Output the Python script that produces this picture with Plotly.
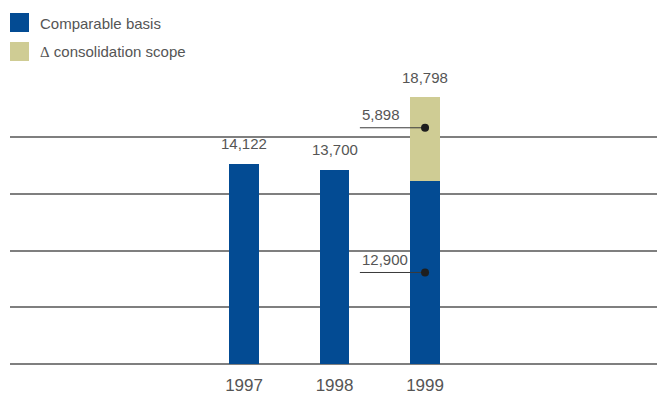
import plotly.graph_objects as go

# Sales by year (comparable basis + change in consolidation scope)
years = [1997, 1998, 1999]
comparable = [14122, 13700, 12900]
scope_delta = [0, 0, 5898]
totals = [c + d for c, d in zip(comparable, scope_delta)]
year_labels = ["1997", "1998", "1999"]
grid_levels = [0, 4000, 8000, 12000, 16000]

# Call-out markers on the 1999 bar: (label, value level of the dot)
callout_labels = ["5,898", "12,900"]
callout_levels = [16650, 6450]

BLUE = "#034b93"
KHAKI = "#cfcc94"
TEXT = "#555555"
GRID = "#7f7f7f"
FONT = "Liberation Sans, Arial, sans-serif"

PLOT_W, PLOT_H, TOP, BOTTOM = 647, 304, 60, 364

fig = go.Figure()
fig.add_trace(go.Bar(x=years, y=comparable, width=0.33, marker_color=BLUE,
                     marker_line_width=0, name="Comparable basis", showlegend=False))
fig.add_trace(go.Bar(x=years, y=scope_delta, width=0.33, marker_color=KHAKI,
                     marker_line_width=0, name="Δ consolidation scope", showlegend=False))

# leader lines with dots for the 1999 components
for lab, lvl in zip(callout_labels, callout_levels):
    fig.add_trace(go.Scatter(x=[years[2] - 0.72, years[2]], y=[lvl, lvl], mode="lines",
                             line=dict(color="#3a3a3a", width=1), showlegend=False,
                             hoverinfo="skip"))
    fig.add_trace(go.Scatter(x=[years[2]], y=[lvl], mode="markers",
                             marker=dict(color="#1e1e1e", size=8), showlegend=False,
                             hoverinfo="skip"))
    fig.add_annotation(x=years[2] - 0.72, y=lvl, text=lab, showarrow=False,
                       xanchor="left", yanchor="middle", yshift=13,
                       font=dict(family=FONT, size=15, color=TEXT))

# total labels above the bars
for yr, tot in zip(years, totals):
    fig.add_annotation(x=yr, y=tot, text=f"{tot:,}", showarrow=False,
                       xanchor="center", yanchor="middle", yshift=20,
                       font=dict(family=FONT, size=15, color=TEXT))

# legend drawn as swatches and labels (pixel positions converted to paper units)
legend_items = [("Comparable basis", BLUE),
                ("<span style='font-family:Liberation Serif'>Δ</span> consolidation scope", KHAKI)]
for i, (lab, col) in enumerate(legend_items):
    top = 13 + i * 29
    fig.add_shape(type="rect", xref="paper", yref="paper",
                  x0=0, x1=19 / PLOT_W,
                  y0=(BOTTOM - top - 19) / PLOT_H, y1=(BOTTOM - top) / PLOT_H,
                  fillcolor=col, line_width=0, layer="above")
    fig.add_annotation(xref="paper", yref="paper", x=28 / PLOT_W,
                       y=(BOTTOM - top - 10) / PLOT_H, text=lab, showarrow=False,
                       xanchor="left", yanchor="middle",
                       font=dict(family=FONT, size=15, color=TEXT))

fig.update_layout(
    width=657, height=396,
    margin=dict(l=10, r=0, t=TOP, b=396 - BOTTOM),
    barmode="stack",
    paper_bgcolor="white", plot_bgcolor="white",
    showlegend=False,
    xaxis=dict(range=[1994.414, 2001.563], tickmode="array", tickvals=years,
               ticktext=year_labels, showgrid=False, zeroline=False,
               showline=False, ticks="", ticklabelstandoff=9,
               tickfont=dict(family=FONT, size=17, color=TEXT)),
    yaxis=dict(range=[0, 21427], tickmode="array", tickvals=grid_levels,
               showticklabels=False,
               showgrid=True, gridcolor=GRID, gridwidth=1.5,
               zeroline=True, zerolinecolor=GRID, zerolinewidth=1.5,
               showline=False, ticks="", layer="below traces"),
)

fig.write_html("out.html")
